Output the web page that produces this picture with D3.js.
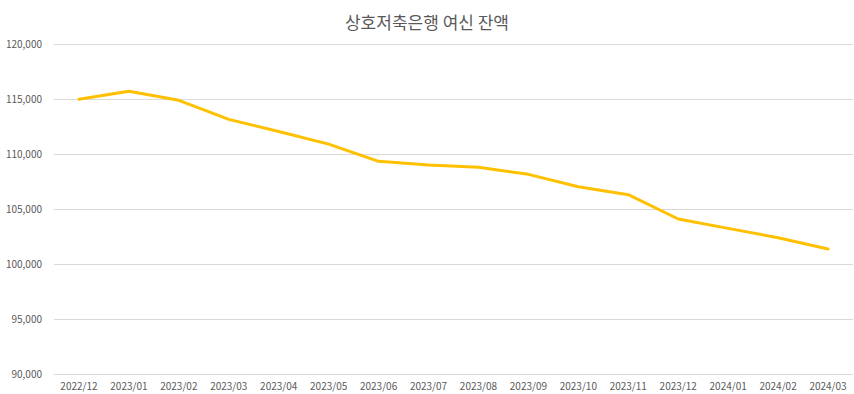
<!DOCTYPE html>
<html>
<head>
<meta charset="utf-8">
<script src="https://cdn.jsdelivr.net/npm/d3@7"></script>
<style>
  body { margin: 0; background: #fff; }
  text { font-family: "Noto Sans CJK KR", "Noto Sans", sans-serif; fill: #595959; }
</style>
</head>
<body>
<svg id="chart" width="854" height="394"></svg>
<script>
// data
const months = ["2022/12", "2023/01", "2023/02", "2023/03", "2023/04", "2023/05", "2023/06", "2023/07",
    "2023/08", "2023/09", "2023/10", "2023/11", "2023/12", "2024/01", "2024/02", "2024/03"];
const balance = [114970, 115700, 114880, 113150, 112050, 110900, 109330, 109000,
    108790, 108150, 107030, 106300, 104090, 103240, 102390, 101360];
const yTicks = [90000, 95000, 100000, 105000, 110000, 115000, 120000];

const svg = d3.select("#chart");
const margin = { top: 44, right: 1, bottom: 20, left: 54 };
const width = 854, height = 394;

const x = d3.scaleBand()
    .domain(months)
    .range([margin.left, width - margin.right]);
const y = d3.scaleLinear()
    .domain([90000, 120000])
    .range([height - margin.bottom, margin.top]);

// gridlines
svg.append("g")
    .selectAll("line")
    .data(yTicks)
    .join("line")
    .attr("x1", margin.left)
    .attr("x2", width - margin.right)
    .attr("y1", d => y(d) + 0.5)
    .attr("y2", d => y(d) + 0.5)
    .attr("stroke", "#d9d9d9")
    .attr("stroke-width", 1);

// y labels
svg.append("g")
    .selectAll("text")
    .data(yTicks)
    .join("text")
    .attr("x", 42)
    .attr("y", d => y(d) + 3.5)
    .attr("text-anchor", "end")
    .attr("font-size", "10px")
    .text(d3.format(","));

// x labels
svg.append("g")
    .selectAll("text")
    .data(months)
    .join("text")
    .attr("x", d => x(d) + x.bandwidth() / 2)
    .attr("y", 390)
    .attr("text-anchor", "middle")
    .attr("font-size", "10px")
    .text(d => d);

// line
const line = d3.line()
    .x((d, i) => x(months[i]) + x.bandwidth() / 2)
    .y(d => y(d));

svg.append("path")
    .datum(balance)
    .attr("d", line)
    .attr("fill", "none")
    .attr("stroke", "#FFC000")
    .attr("stroke-width", 3)
    .attr("stroke-linejoin", "round")
    .attr("stroke-linecap", "round");

// title
svg.append("text")
    .attr("x", 427)
    .attr("y", 29)
    .attr("text-anchor", "middle")
    .attr("font-size", "17px")
    .text("상호저축은행 여신 잔액");
</script>
</body>
</html>
